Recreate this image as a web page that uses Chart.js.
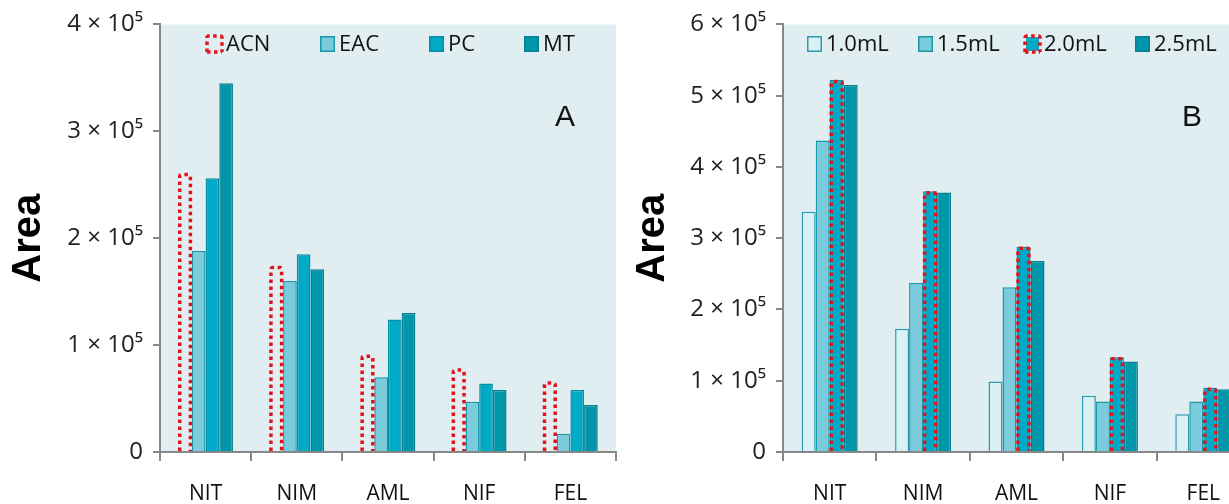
<!DOCTYPE html>
<html>
<head>
<meta charset="utf-8">
<script src="https://cdn.jsdelivr.net/npm/chart.js@4"></script>
<style>
html,body{margin:0;padding:0;background:#fff;overflow:hidden;width:1229px;height:504px}
.wrap{position:absolute;top:0;height:504px}
</style>
</head>
<body>
<div class="wrap" style="left:0;width:620px"><canvas id="cA" width="620" height="504"></canvas></div>
<div class="wrap" style="left:620px;width:640px"><canvas id="cB" width="640" height="504"></canvas></div>
<script>
const categories=['NIT','NIM','AML','NIF','FEL'];
// panel A (solvent), values x1e5
const acn=[2.61,1.74,0.91,0.78,0.66];
const eac=[1.88,1.60,0.70,0.47,0.17];
const pc=[2.56,1.85,1.24,0.64,0.58];
const mt=[3.45,1.71,1.30,0.58,0.44];
// panel B (volume), values x1e5
const v10=[3.37,1.73,0.99,0.79,0.53];
const v15=[4.37,2.37,2.31,0.71,0.71];
const v20=[5.22,3.66,2.88,1.33,0.90];
const v25=[5.15,3.64,2.68,1.27,0.88];

const BG='#e1eef1';
const RED='#e3121b';
const tickFont={family:'"Open Sans", sans-serif',size:24};

function sc(a){return a.map(v=>v*1e5);}

const bgPlugin={id:'bg',beforeDraw(ch){const a=ch.chartArea,c=ch.ctx;c.save();c.fillStyle=BG;c.fillRect(a.left,a.top,a.right-a.left,a.bottom-a.top);c.restore();}};

function dottedRect(c,x0,y0,x1,y1){
  c.save();c.strokeStyle=RED;c.lineWidth=3.5;c.setLineDash([3.5,3.5]);c.lineCap='butt';
  c.beginPath();c.moveTo(x0,y1);c.lineTo(x0,y0+2);c.quadraticCurveTo(x0,y0,x0+2,y0);c.lineTo(x1-2,y0);c.quadraticCurveTo(x1,y0,x1,y0+2);c.lineTo(x1,y1);c.stroke();c.restore();
}

const dotPlugin={id:'dots',afterDatasetsDraw(ch,args,opts){
  const meta=ch.getDatasetMeta(opts.index);
  meta.data.forEach(b=>{const w=b.width/2;dottedRect(ch.ctx,b.x-w+1.5,b.y+1.5,b.x+w-1.5,b.base);});
}};

const legendPlugin={id:'leg',afterDraw(ch,args,opts){
  const c=ch.ctx;c.save();
  ch.data.datasets.forEach((d,i)=>{
    const x=opts.xs[i],y=opts.y;
    if(i===opts.dotted){
      c.fillStyle=d.legendFill;c.fillRect(x+1,y-7,13,14);
      dottedRect(c,x,y-8,x+15,y+8);
      c.save();c.strokeStyle=RED;c.lineWidth=3.5;c.setLineDash([3.5,3.5]);c.beginPath();c.moveTo(x,y+8);c.lineTo(x+15,y+8);c.stroke();c.restore();
    }else{
      c.fillStyle=d.backgroundColor;c.fillRect(x,y-8,15,16);
      c.strokeStyle=d.borderColor;c.lineWidth=1.5;c.strokeRect(x+0.75,y-7.25,13.5,14.5);
    }
    c.fillStyle='#111';c.font='22px "Open Sans", sans-serif';c.textBaseline='middle';c.textAlign='left';
    c.fillText(d.label,x+19,y+1);
  });
  c.font='30px Arial, "Liberation Sans", sans-serif';c.textAlign='center';c.textBaseline='middle';
  c.fillText(opts.tag,opts.tagX,opts.tagY);
  c.restore();
}};

function makeChart(id,datasets,maxV,leftPad,rightPad,axisW,leg,dotIndex){
  return new Chart(document.getElementById(id),{type:'bar',
    data:{labels:categories,datasets:datasets},
    options:{responsive:false,animation:false,events:[],
      layout:{padding:{top:22,right:rightPad,left:leftPad,bottom:0}},
      datasets:{bar:{categoryPercentage:0.6,barPercentage:1.0}},
      plugins:{legend:{display:false},tooltip:{enabled:false},dots:{index:dotIndex},leg:leg},
      scales:{
        x:{grid:{offset:true,drawOnChartArea:false,drawTicks:true,tickLength:9,color:'#888',lineWidth:2},
          border:{color:'#888',width:2},
          ticks:{font:{family:'"Open Sans", sans-serif',size:21},color:'#111',padding:20},
          afterFit(s){s.height=52;}},
        y:{min:0,max:maxV,grid:{drawOnChartArea:false,drawTicks:true,tickLength:7,color:'#888',lineWidth:2},
          border:{color:'#888',width:2},
          ticks:{stepSize:1e5,font:tickFont,color:'#222',padding:10,
            callback:v=>v===0?'0':(v/1e5)+' × 10⁵'},
          title:{display:true,text:'Area',font:{family:'Arial, "Liberation Sans", sans-serif',size:40,weight:'bold'},color:'#000',padding:{top:0,bottom:0}},
          afterFit(s){s.width=axisW;}}
      }},
    plugins:[bgPlugin,dotPlugin,legendPlugin]});
}

makeChart('cA',[
  {label:'ACN',data:sc(acn),backgroundColor:'rgba(0,0,0,0)',borderWidth:0,legendFill:BG},
  {label:'EAC',data:sc(eac),backgroundColor:'#7accdc',borderColor:'#1996a8',borderWidth:1.5},
  {label:'PC',data:sc(pc),backgroundColor:'#00a9c5',borderColor:'#0390a6',borderWidth:1.5},
  {label:'MT',data:sc(mt),backgroundColor:'#0096aa',borderColor:'#067f90',borderWidth:1.5}
],4e5,5,4,155,{xs:[207,320,429,524],y:44,dotted:0,tag:'A',tagX:565,tagY:118},0);

makeChart('cB',[
  {label:'1.0mL',data:sc(v10),backgroundColor:'#d9f0f5',borderColor:'#2a9db0',borderWidth:1.5},
  {label:'1.5mL',data:sc(v15),backgroundColor:'#7accdc',borderColor:'#1996a8',borderWidth:1.5},
  {label:'2.0mL',data:sc(v20),backgroundColor:'#00a9c5',borderColor:'#0390a6',borderWidth:1.5,legendFill:'#00a9c5'},
  {label:'2.5mL',data:sc(v25),backgroundColor:'#0096aa',borderColor:'#067f90',borderWidth:1.5}
],6e5,9,10,154,{xs:[187,298,405,515],y:44,dotted:2,tag:'B',tagX:572,tagY:118},2);
</script>
</body>
</html>
